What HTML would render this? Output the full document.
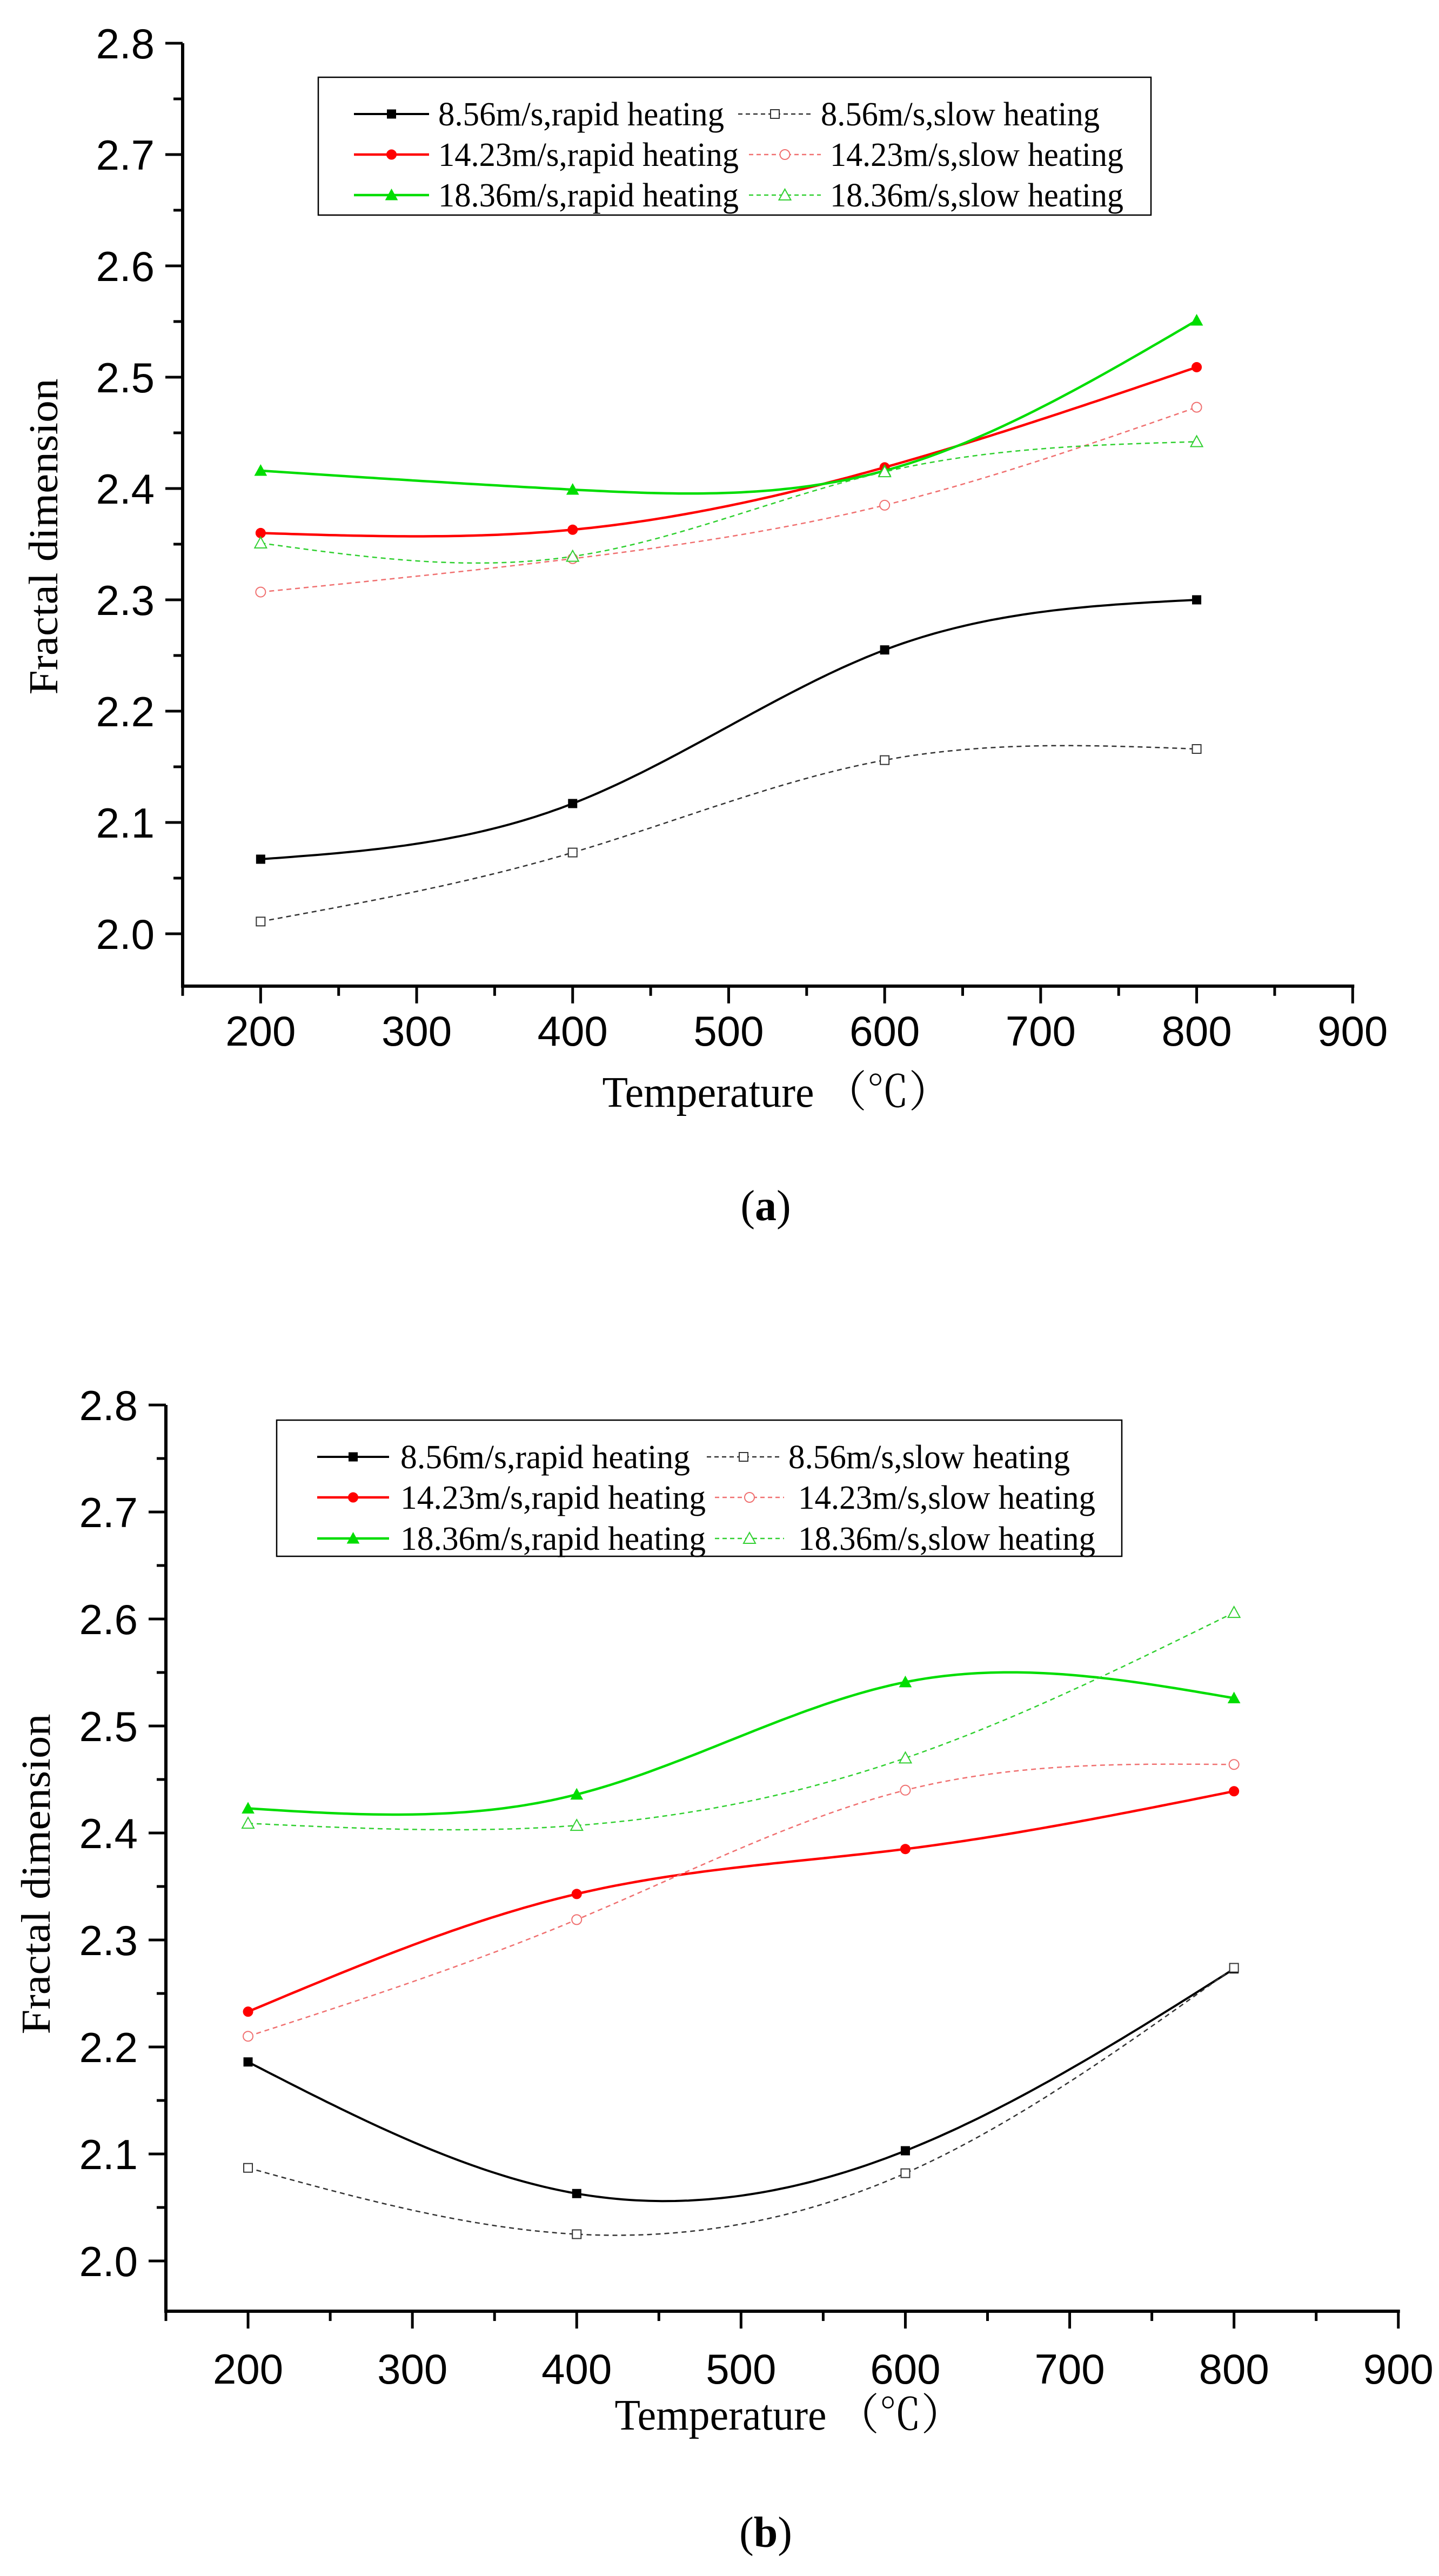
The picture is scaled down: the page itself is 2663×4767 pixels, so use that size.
<!DOCTYPE html>
<html><head><meta charset="utf-8">
<style>
html,body{margin:0;padding:0;background:#fff;}
svg{display:block;}
text{font-family:"Liberation Serif","Noto Serif CJK SC",serif;fill:#000;}
.tick{font-family:"Liberation Sans",sans-serif;}
</style></head>
<body>
<svg id="fig" width="2663" height="4767" viewBox="0 0 2663 4767" xmlns="http://www.w3.org/2000/svg"></svg>
<script>
// ---- data ----
const temps = [200, 400, 600, 800];
const xTicks = [200, 300, 400, 500, 600, 700, 800, 900];
const yTicks = [2.0, 2.1, 2.2, 2.3, 2.4, 2.5, 2.6, 2.7, 2.8];
const seriesNames = ["8.56m/s,rapid heating","8.56m/s,slow heating","14.23m/s,rapid heating","14.23m/s,slow heating","18.36m/s,rapid heating","18.36m/s,slow heating"];
// chart (a)
const aBlackRapid = [2.067, 2.117, 2.255, 2.300];
const aBlackSlow  = [2.011, 2.073, 2.156, 2.166];
const aRedRapid   = [2.360, 2.363, 2.419, 2.509];
const aRedSlow    = [2.307, 2.337, 2.385, 2.473];
const aGreenRapid = [2.416, 2.399, 2.416, 2.551];
const aGreenSlow  = [2.351, 2.339, 2.415, 2.442];
// chart (b)
const bBlackRapid = [2.186, 2.063, 2.103, 2.273];
const bBlackSlow  = [2.087, 2.025, 2.082, 2.274];
const bRedRapid   = [2.233, 2.343, 2.385, 2.439];
const bRedSlow    = [2.210, 2.319, 2.440, 2.464];
const bGreenRapid = [2.423, 2.436, 2.541, 2.526];
const bGreenSlow  = [2.409, 2.407, 2.470, 2.606];

const NS = "http://www.w3.org/2000/svg";
const svg = document.getElementById('fig');
function mk(tag, attrs, parent){
  const e = document.createElementNS(NS, tag);
  for (const k in attrs) e.setAttribute(k, attrs[k]);
  (parent||svg).appendChild(e);
  return e;
}
function spline(xs, ys){
  const n = xs.length, h=[], a=[], l=[1], mu=[0], z=[0], c=new Array(n).fill(0), b=[], d=[];
  for(let i=0;i<n-1;i++) h[i]=xs[i+1]-xs[i];
  for(let i=1;i<n-1;i++) a[i]=3/h[i]*(ys[i+1]-ys[i])-3/h[i-1]*(ys[i]-ys[i-1]);
  for(let i=1;i<n-1;i++){ l[i]=2*(xs[i+1]-xs[i-1])-h[i-1]*mu[i-1]; mu[i]=h[i]/l[i]; z[i]=(a[i]-h[i-1]*z[i-1])/l[i]; }
  l[n-1]=1; z[n-1]=0; c[n-1]=0;
  for(let j=n-2;j>=0;j--){ c[j]=z[j]-mu[j]*c[j+1]; b[j]=(ys[j+1]-ys[j])/h[j]-h[j]*(c[j+1]+2*c[j])/3; d[j]=(c[j+1]-c[j])/(3*h[j]); }
  return function(x){
    let i=0; while(i<n-2 && x>xs[i+1]) i++;
    const dx=x-xs[i]; return ys[i]+b[i]*dx+c[i]*dx*dx+d[i]*dx*dx*dx;
  };
}
function marker(g, shape, cx, cy, color, hollow, name){
  let e;
  const fill = hollow ? '#fff' : color;
  const sw = hollow ? 2 : 1;
  if(shape==='square') e = mk('rect',{x:cx-8,y:cy-8,width:16,height:16,fill:fill,stroke:color,'stroke-width':sw},g);
  else if(shape==='circle') e = mk('circle',{cx:cx,cy:cy,r:9,fill:fill,stroke:color,'stroke-width':sw},g);
  else e = mk('polygon',{points:`${cx},${cy-11} ${cx+11},${cy+9} ${cx-11},${cy+9}`,fill:fill,stroke:color,'stroke-width':sw},g);
  
  
  return e;
}

function chart(cfg){
  const g = mk('g',{});
  
  
  const X = v => cfg.x0 + (v-150)*cfg.xs/100;
  const Y = v => cfg.y28 + (2.8-v)*cfg.ys;
  const axisY = Y(1.953);
  const ax = mk('path',{d:`M${X(150)},${Y(2.8)} L${X(150)},${axisY} L${X(900)+3},${axisY}`,fill:'none',stroke:'#000','stroke-width':6},g);
   
  yTicks.forEach(v=>{
    mk('line',{x1:X(150)-32,y1:Y(v),x2:X(150),y2:Y(v),stroke:'#000','stroke-width':5},g);
    if(v<2.75) mk('line',{x1:X(150)-17,y1:Y(v+0.05),x2:X(150),y2:Y(v+0.05),stroke:'#000','stroke-width':5},g);
    const t = mk('text',{x:X(150)-52,y:Y(v)+28,'text-anchor':'end','font-size':78,class:'tick'},g);
    t.textContent = v.toFixed(1);
     
  });
  xTicks.forEach(v=>{
    mk('line',{x1:X(v),y1:axisY,x2:X(v),y2:axisY+32,stroke:'#000','stroke-width':5},g);
    mk('line',{x1:X(v-50),y1:axisY,x2:X(v-50),y2:axisY+18,stroke:'#000','stroke-width':5},g);
    const t = mk('text',{x:X(v),y:cfg.xLabelY,'text-anchor':'middle','font-size':78,class:'tick'},g);
    t.textContent = v;
     
  });
  const styles = [
    {c:'#000',dash:null,shape:'square',hollow:false,w:4},
    {c:'#333',dash:'9 7',shape:'square',hollow:true,w:2.5},
    {c:'#ff0000',dash:null,shape:'circle',hollow:false,w:4.5},
    {c:'#f07070',dash:'9 7',shape:'circle',hollow:true,w:2.5},
    {c:'#00dd00',dash:null,shape:'tri',hollow:false,w:4.5},
    {c:'#30d030',dash:'9 7',shape:'tri',hollow:true,w:2.5}
  ];
  cfg.series.forEach((vals,i)=>{
    const st = styles[i];
    const f = spline(temps, vals);
    let d = '';
    for(let t=200;t<=800;t+=4){ d += (t===200?'M':'L') + X(t).toFixed(1)+','+Y(f(t)).toFixed(1); }
    const p = mk('path',{d:d,fill:'none',stroke:st.c,'stroke-width':st.w},g);
    if(st.dash) p.setAttribute('stroke-dasharray',st.dash);
    
    
    temps.forEach((t,k)=>marker(g, st.shape, X(t), Y(vals[k]), st.c, st.hollow, 'point-'+(i+1)));
  });
  const L = cfg.legend;
  const box = mk('rect',{x:L.x,y:L.y,width:L.w,height:L.h,fill:'#fff',stroke:'#000','stroke-width':2.5},g);
   
  for(let r=0;r<3;r++){
    for(let col=0;col<2;col++){
      const i = r*2+col, st = styles[i];
      const cy = L.rows[r];
      const sx = col===0 ? L.c1s : (r===0 ? L.c2s0 : L.c2s);
      const tx = col===0 ? L.c1t : (r===0 ? L.c2t0 : L.c2t);
      const tw = col===0 ? (r===0 ? L.w1a : L.w1b) : (r===0 ? L.w2a : L.w2b);
      const ln = mk('line',{x1:sx[0],y1:cy,x2:sx[1],y2:cy,stroke:st.c,'stroke-width':st.w},g);
      if(st.dash) ln.setAttribute('stroke-dasharray','8 6');
       
      marker(g, st.shape, (sx[0]+sx[1])/2, cy, st.c, st.hollow, 'legend-marker');
      const t = mk('text',{x:tx,y:cy+21,'font-size':62,textLength:tw,lengthAdjust:'spacingAndGlyphs'},g);
      t.textContent = seriesNames[i];
       
    }
  }
  const xt = mk('text',{x:cfg.xt[0],y:cfg.xt[1],'text-anchor':'middle','font-size':80,textLength:645,lengthAdjust:'spacingAndGlyphs'},g);
  xt.textContent = 'Temperature （℃）';
   
  const yt = mk('text',{x:0,y:0,'text-anchor':'middle','font-size':76,textLength:cfg.ytLen,lengthAdjust:'spacingAndGlyphs',transform:`translate(${cfg.yt[0]},${cfg.yt[1]}) rotate(-90)`},g);
  yt.textContent = 'Fractal dimension';
   
  const cap = mk('text',{x:cfg.cap[0],y:cfg.cap[1],'text-anchor':'middle','font-size':80},g);
  cap.innerHTML = '(<tspan font-weight="bold">'+cfg.letter+'</tspan>)';
   
}

chart({
  name:'chart-a', letter:'a', x0:338, xs:288.7, y28:80, ys:2060, xLabelY:1935,
  series:[aBlackRapid,aBlackSlow,aRedRapid,aRedSlow,aGreenRapid,aGreenSlow],
  legend:{x:589,y:143,w:1541,h:255,rows:[211,286,361],
    c1s:[655,794],c1t:811,c2s0:[1366,1502],c2t0:1519,c2s:[1386,1519],c2t:1536,
    w1a:529,w1b:556,w2a:516,w2b:543},
  xt:[1437,2048], yt:[106,993], ytLen:585, cap:[1417,2258]
});
chart({
  name:'chart-b', letter:'b', x0:307, xs:304.1, y28:2600, ys:1980, xLabelY:4411,
  series:[bBlackRapid,bBlackSlow,bRedRapid,bRedSlow,bGreenRapid,bGreenSlow],
  legend:{x:512,y:2628,w:1564,h:252,rows:[2696,2771,2847],
    c1s:[587,720],c1t:741,c2s0:[1308,1444],c2t0:1459,c2s:[1323,1451],c2t:1477,
    w1a:536,w1b:565,w2a:521,w2b:550},
  xt:[1460,4496], yt:[92,3468], ytLen:593, cap:[1417,4713]
});
</script>
</body></html>
